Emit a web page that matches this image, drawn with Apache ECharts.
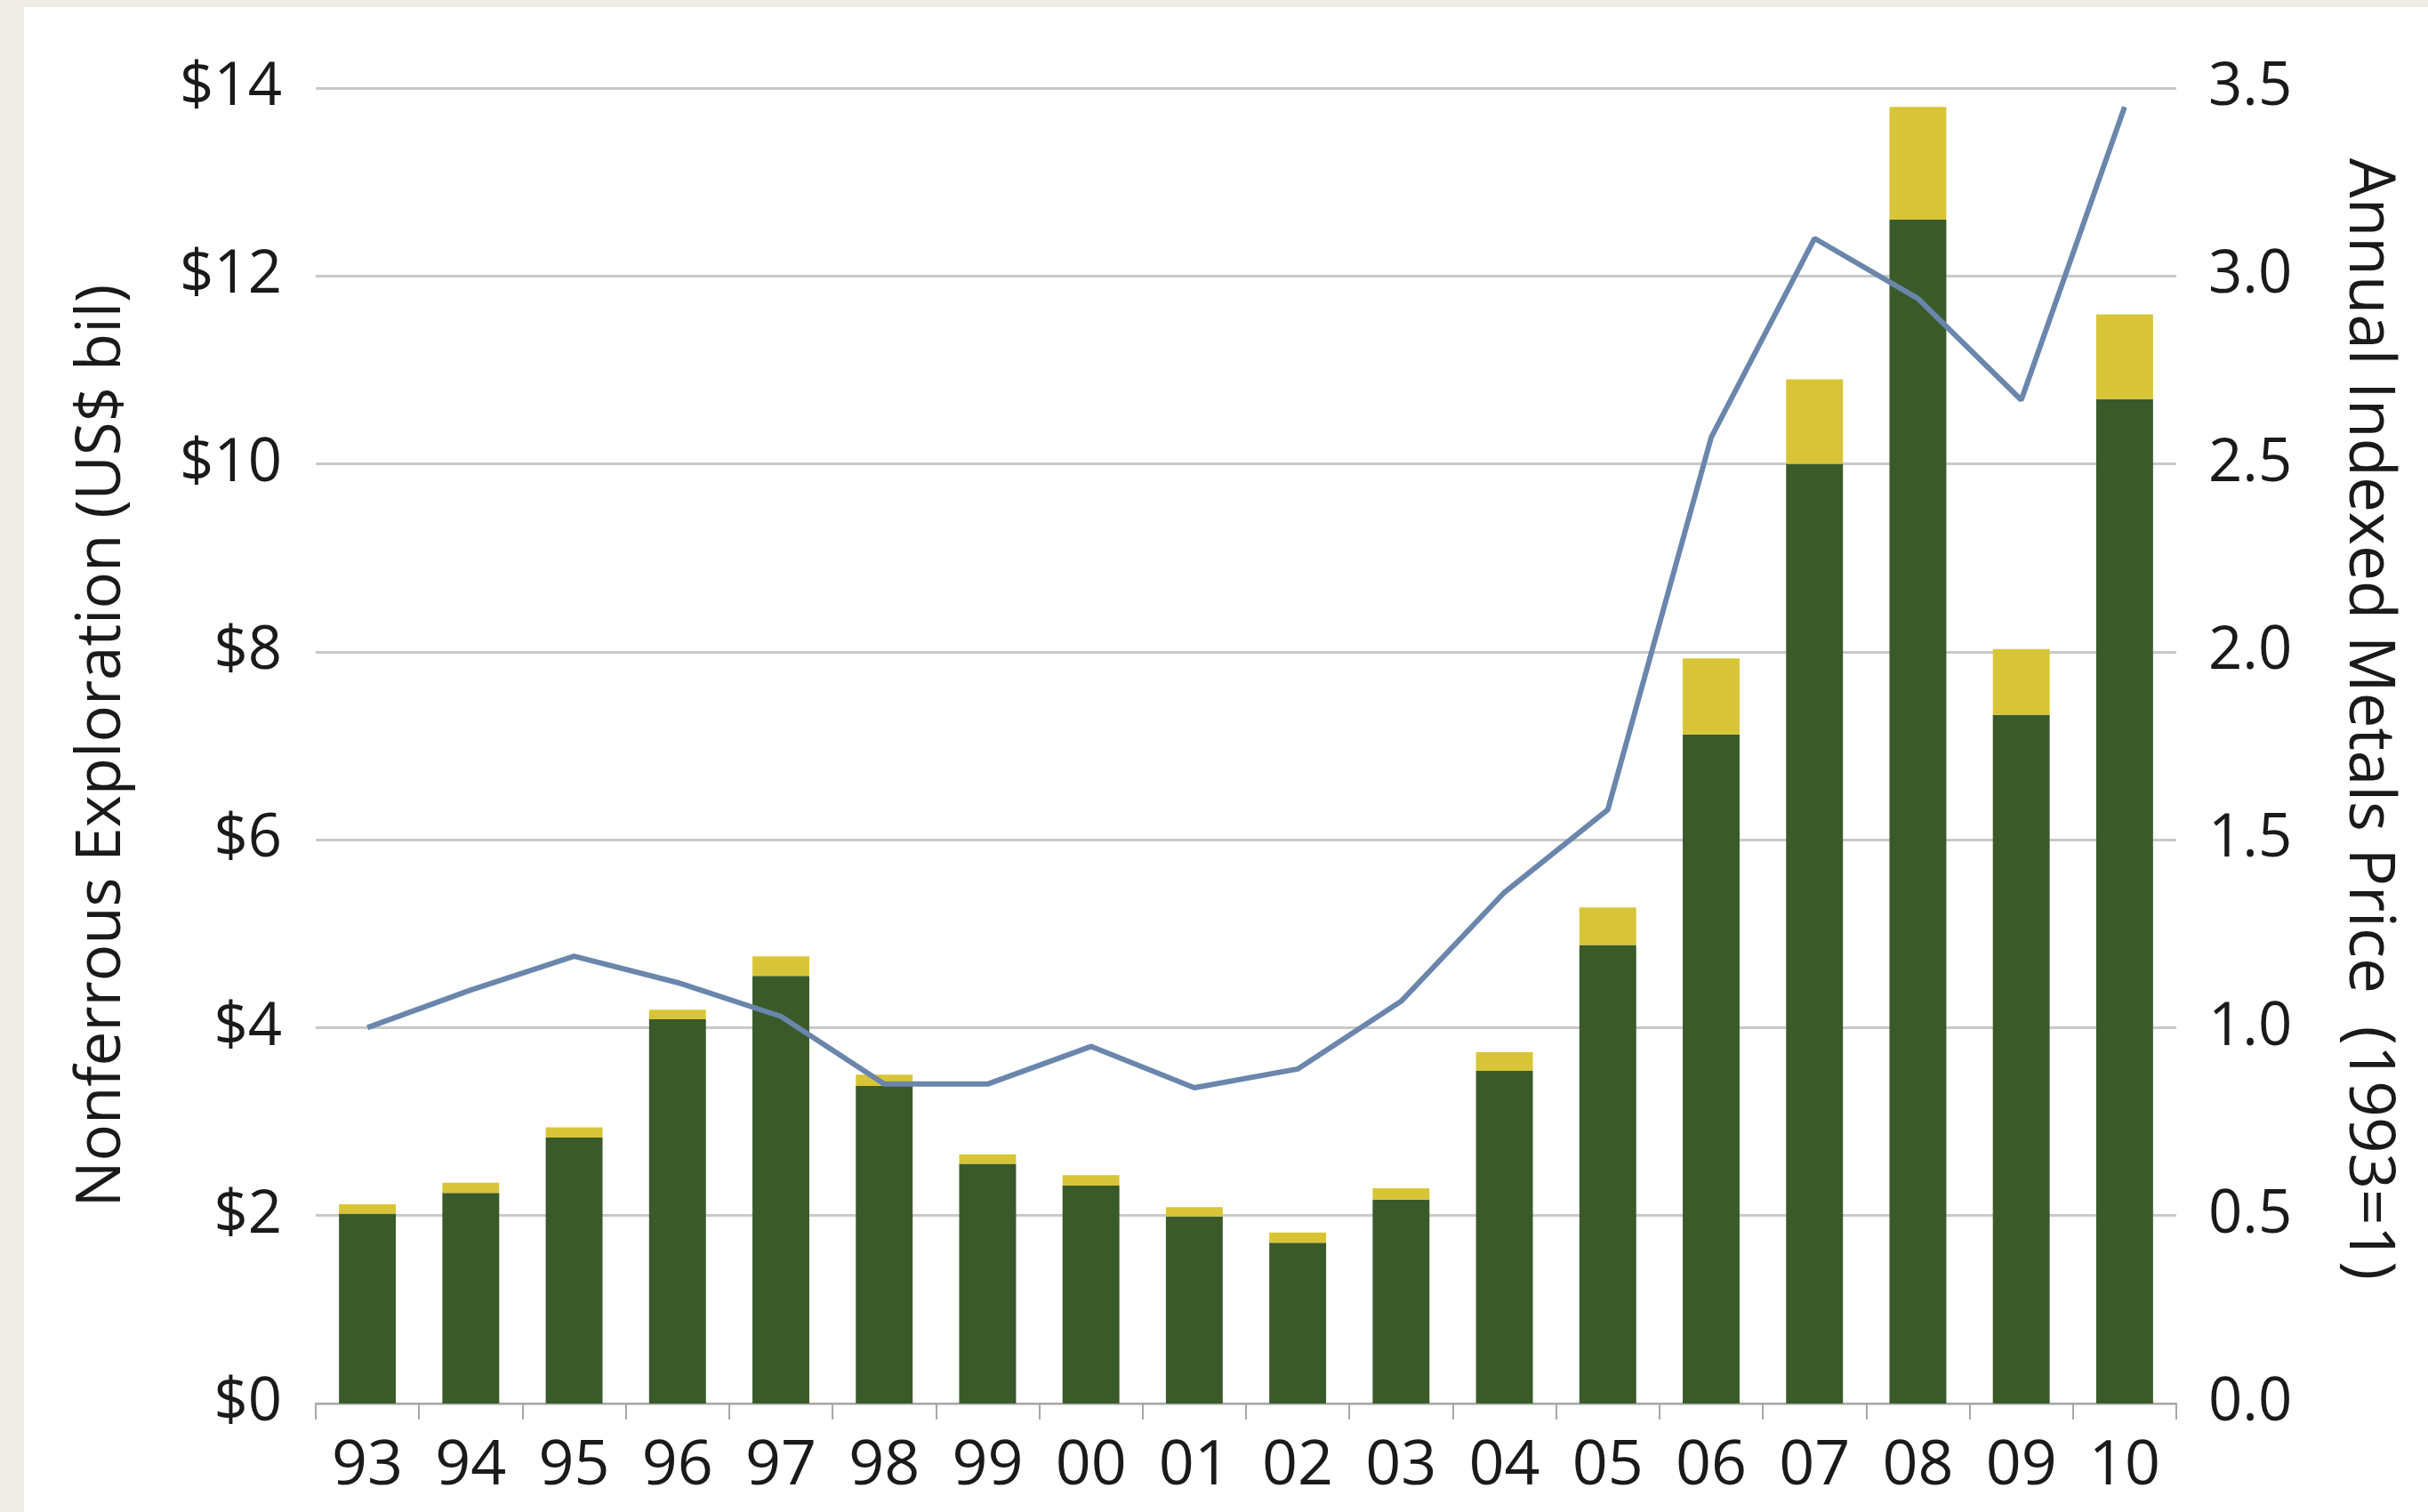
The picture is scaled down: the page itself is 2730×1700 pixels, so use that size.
<!DOCTYPE html>
<html>
<head>
<meta charset="utf-8">
<script src="https://cdn.jsdelivr.net/npm/echarts@6/dist/echarts.min.js"></script>
<style>
html,body{margin:0;padding:0;background:#efece6;}
#frame{position:absolute;left:27px;top:8px;right:0;bottom:0;background:#ffffff;}
#chart{position:absolute;left:0;top:0;width:2730px;height:1700px;}
</style>
</head>
<body>
<div id="frame"></div>
<div id="chart"></div>
<script>
const years = ['93','94','95','96','97','98','99','00','01','02','03','04','05','06','07','08','09','10'];
const baseSpend = [2.02, 2.24, 2.83, 4.09, 4.55, 3.38, 2.55, 2.32, 1.99, 1.71, 2.17, 3.54, 4.88, 7.12, 10.0, 12.6, 7.33, 10.69];
const extraSpend = [0.10, 0.11, 0.11, 0.10, 0.21, 0.12, 0.10, 0.11, 0.10, 0.11, 0.12, 0.20, 0.40, 0.81, 0.90, 1.20, 0.70, 0.90];
const metalsPrice = [1.00, 1.10, 1.19, 1.12, 1.03, 0.85, 0.85, 0.95, 0.84, 0.89, 1.07, 1.36, 1.58, 2.57, 3.10, 2.94, 2.67, 3.45];
const leftTicks = ['$0','$2','$4','$6','$8','$10','$12','$14'];

const FONT = 'Open Sans';
const chart = echarts.init(document.getElementById('chart'), null, {renderer:'canvas'});
chart.setOption({
  backgroundColor: 'transparent',
  animation: false,
  grid: {left: 355, right: 283, top: 99, bottom: 122},
  xAxis: {
    type: 'category',
    data: years,
    boundaryGap: true,
    axisLine: {show: true, lineStyle: {color: '#a8a8a8', width: 2}},
    axisTick: {show: true, length: 18, lineStyle: {color: '#a8a8a8', width: 2}},
    axisLabel: {color: '#1a1a1a', fontFamily: FONT, fontSize: 70, margin: 36}
  },
  yAxis: [
    {
      type: 'value', min: 0, max: 14, interval: 2, position: 'left',
      name: 'Nonferrous Exploration (US$ bil)',
      nameLocation: 'middle', nameRotate: 90, nameGap: 205,
      nameTextStyle: {color: '#1a1a1a', fontFamily: FONT, fontSize: 69},
      axisLine: {show: false}, axisTick: {show: false},
      splitLine: {show: true, lineStyle: {color: '#c9c9c9', width: 3}},
      axisLabel: {color: '#1a1a1a', fontFamily: FONT, fontSize: 67, margin: 38,
        formatter: function (v) { return leftTicks[Math.round(v / 2)]; }}
    },
    {
      type: 'value', min: 0, max: 3.5, interval: 0.5, position: 'right',
      name: 'Annual Indexed Metals Price  (1993=1)',
      nameLocation: 'middle', nameRotate: -90, nameGap: 180,
      nameTextStyle: {color: '#1a1a1a', fontFamily: FONT, fontSize: 71, padding: [0, 60, 0, 0]},
      axisLine: {show: false}, axisTick: {show: false},
      splitLine: {show: false},
      axisLabel: {color: '#1a1a1a', fontFamily: FONT, fontSize: 67, margin: 36,
        formatter: function (v) { return v.toFixed(1); }}
    }
  ],
  series: [
    {type: 'bar', stack: 'x', data: baseSpend, barWidth: '55%', itemStyle: {color: '#3a5a29'}},
    {type: 'bar', stack: 'x', data: extraSpend, barWidth: '55%', itemStyle: {color: '#d8c537'}},
    {type: 'line', yAxisIndex: 1, data: metalsPrice, showSymbol: false, symbol: 'none',
      lineStyle: {color: '#6a86ac', width: 6}, z: 5}
  ]
});
</script>
</body>
</html>
